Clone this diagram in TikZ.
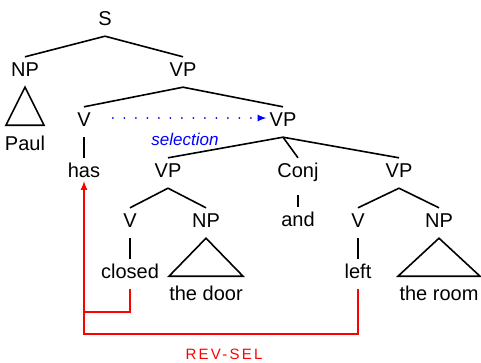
\documentclass[tikz,border=0pt]{standalone}
\usepackage{fontspec}
\setmainfont{Liberation Sans}
\usepackage{tikz}
\usetikzlibrary{calc,arrows}

\begin{document}
\begin{tikzpicture}[x=1pt,y=-1pt,
    cat/.style={font=\fontsize{20}{24}\selectfont,inner xsep=0pt,inner ysep=5pt,
      text height=14pt,text depth=6pt,anchor=base},
    br/.style={line width=1.6pt,line join=miter}]
\useasboundingbox (0,0) rectangle (481,362);
% categories
\node[cat](s)at(105,25){S};
\node[cat](np1)at(25,76){NP};
\node[cat](vp1)at(183,76){VP};
\node[cat](v1)at(84,126){V};
\node[cat](vp2)at(283,126){VP};
\node[cat](vp3)at(168,177){VP};
\node[cat](conj)at(298,177){Conj};
\node[cat](vp4)at(399,177){VP};
\node[cat](v2)at(130,227){V};
\node[cat](np2)at(206,227){NP};
\node[cat](v3)at(358,227){V};
\node[cat](np3)at(439,227){NP};
% words
\node[cat](paul)at(25,150){Paul};
\node[cat](has)at(84,177){has};
\node[cat](and)at(298,226){and};
\node[cat](closed)at(130,278){closed};
\node[cat](left)at(358,278){left};
\node[cat](door)at(206,300){the door};
\node[cat](room)at(439,300){the room};
% branches
\draw[br](s.south)--(np1.north);
\draw[br](s.south)--(vp1.north);
\draw[br](vp1.south)--(v1.north);
\draw[br](vp1.south)--(vp2.north);
\draw[br](vp2.south)--(vp3.north);
\draw[br](vp2.south)--(conj.north);
\draw[br](vp2.south)--(vp4.north);
\draw[br](vp3.south)--(v2.north);
\draw[br](vp3.south)--(np2.north);
\draw[br](vp4.south)--(v3.north);
\draw[br](vp4.south)--(np3.north);
\draw[br](v1.south)--(has.north);
\draw[br](v2.south)--(closed.north);
\draw[br](v3.south)--(left.north);
\draw[br,shorten <=7pt](conj.south)--(and.north);
% triangles
\draw[br](np1.south)--++(-19,38)--++(38,0)--cycle;
\draw[br](np2.south)--++(-37,38)--++(74,0)--cycle;
\draw[br](np3.south)--++(-41,38)--++(82,0)--cycle;
% selection
\draw[blue,line width=2pt,line cap=round,dash pattern=on 0pt off 11.5pt,-latex,
  shorten <=22pt,shorten >=3pt]([yshift=4pt]v1.east)--([yshift=4pt]vp2.west);
\node[font=\fontsize{17}{20}\selectfont\itshape,text=blue,anchor=base](sel)at(185,145){selection};
% reverse selection
\draw[red,line width=2pt,-latex,shorten >=4pt](left.south)--++(0,45)-|(has.base);
\draw[red,line width=2pt](closed.south)|-($(has.south)+(0,124)$);
\node[font=\fontsize{15}{17}\selectfont\addfontfeature{LetterSpace=15},text=red,
  anchor=base,inner sep=1pt](rs)at(224,359.5){REV-SEL};
\end{tikzpicture}
\end{document}
